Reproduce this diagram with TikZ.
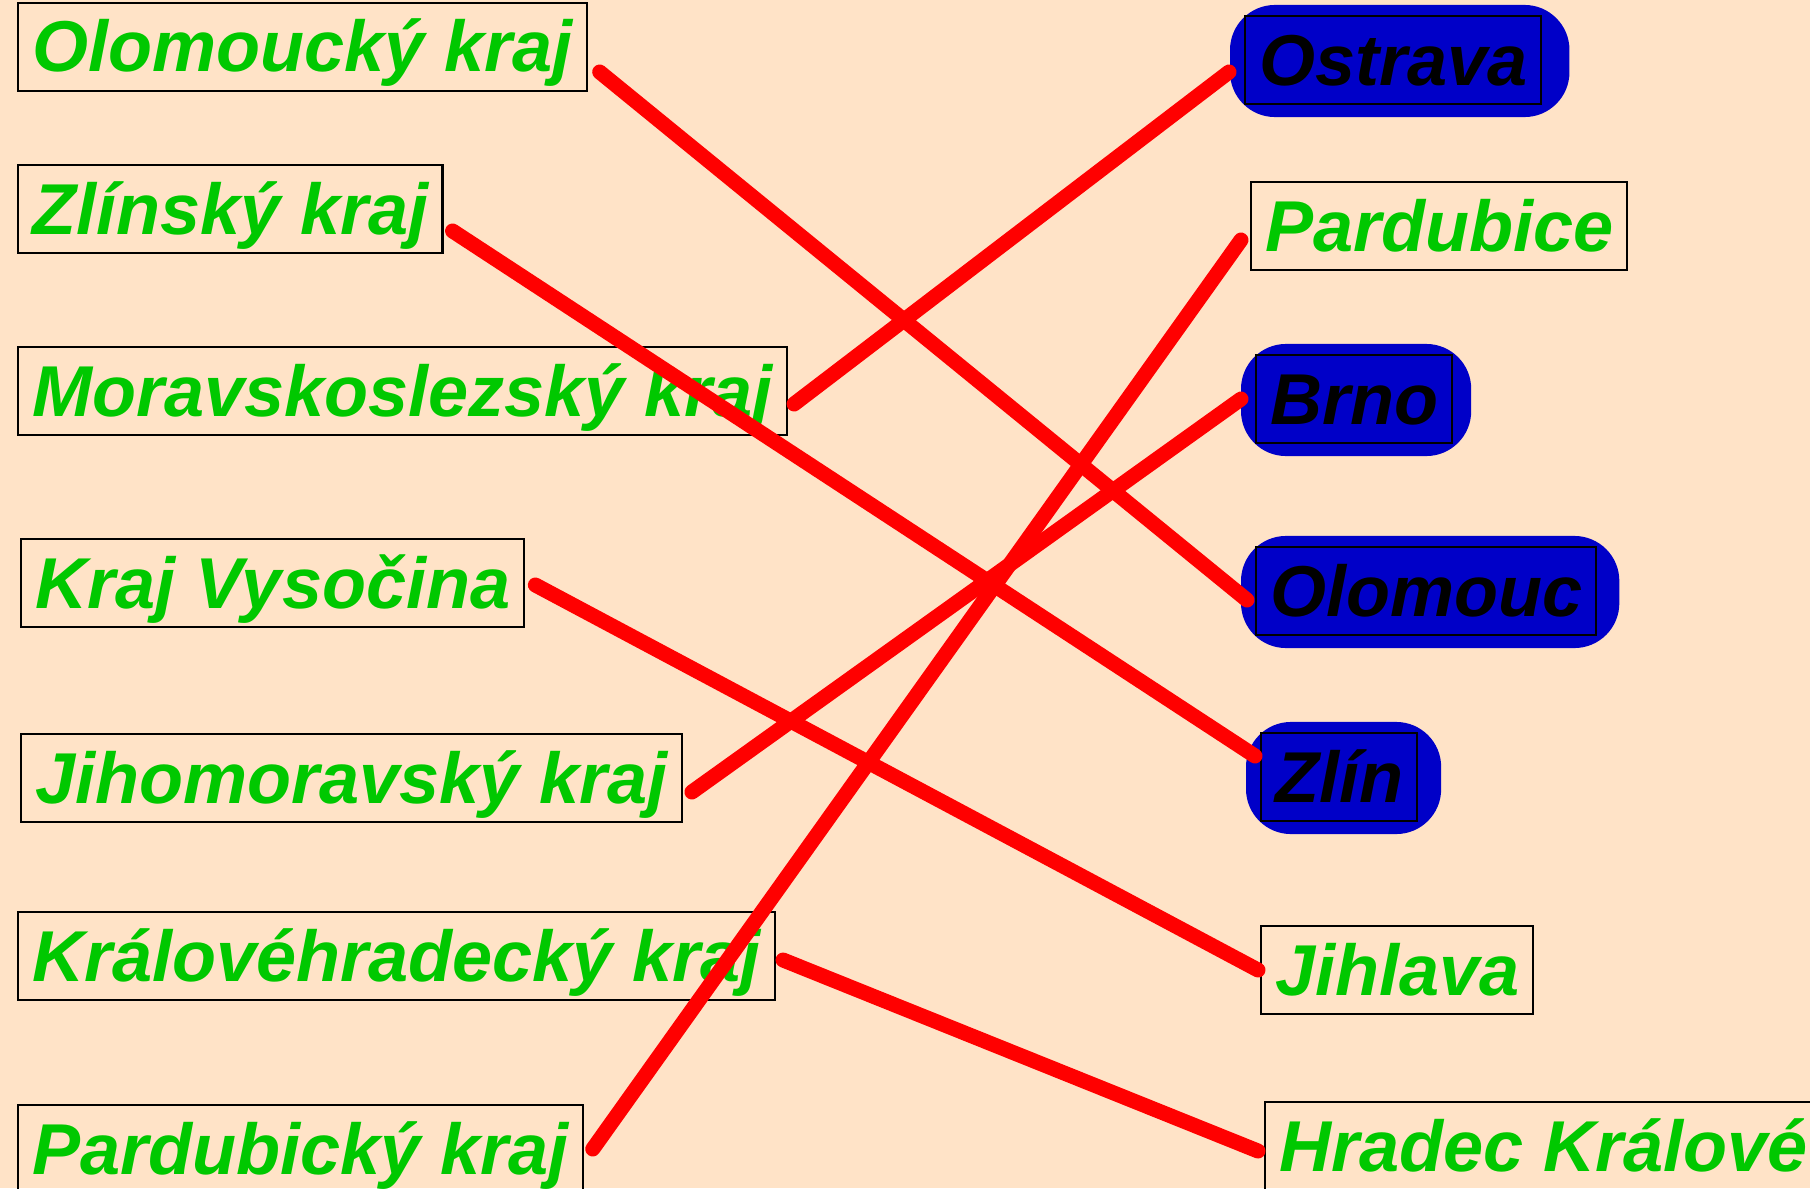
\documentclass[tikz,border=0pt]{standalone}
\usepackage{fontspec}
\setmainfont{Liberation Sans}
\usetikzlibrary{positioning}
\definecolor{pozadi}{RGB}{255,227,199}
\definecolor{zelena}{RGB}{0,200,0}
\definecolor{modra}{RGB}{0,0,200}
\pgfdeclarelayer{spodek}
\pgfsetlayers{spodek,main}

\begin{document}
\begin{tikzpicture}[
  kraj/.style={draw=black,line width=0.6pt,anchor=west,inner xsep=0.14cm,inner ysep=0pt,
    text height=0.69cm,text depth=0.19cm,text=zelena,
    font=\fontsize{20.5}{24}\selectfont\bfseries\itshape},
  mesto/.style={kraj,text=black},
  spoj/.style={draw=red,line width=0.15cm,line cap=round}]
\useasboundingbox (0,0) rectangle (18.10,11.88);
\begin{pgfonlayer}{spodek}
\fill[pozadi] (0,0) rectangle (18.10,11.88);
\end{pgfonlayer}
% kraje
\node[kraj] (k_1) at (0.17,11.41) {Olomoucký kraj};
\node[kraj] (k_2) at (0.17,9.79) {Zlínský kraj};
\node[kraj] (k_3) at (0.17,7.97) {Moravskoslezský kraj};
\node[kraj] (k_4) at (0.20,6.05) {Kraj Vysočina};
\node[kraj] (k_5) at (0.20,4.10) {Jihomoravský kraj};
\node[kraj] (k_6) at (0.17,2.32) {Královéhradecký kraj};
\node[kraj] (k_7) at (0.17,0.39) {Pardubický kraj};
% mesta
\node[mesto] (m_1) at (12.44,11.28) {Ostrava};
\node[kraj] (m_2) at (12.50,9.62) {Pardubice};
\node[mesto] (m_3) at (12.55,7.89) {Brno};
\node[mesto] (m_4) at (12.55,5.97) {Olomouc};
\node[mesto] (m_5) at (12.60,4.11) {Zlín};
\node[kraj] (m_6) at (12.60,2.18) {Jihlava};
\node[kraj] (m_7) at (12.64,0.42) {Hradec Králové};
% modre oznaceni
\begin{pgfonlayer}{spodek}
\foreach \m/\r in {m_1/0.27,m_3/0.18,m_4/0.22,m_5/0.23}
  \fill[modra,rounded corners=0.45cm] ([shift={(-0.14,0.10)}]\m.north west)
    rectangle ([shift={(\r,-0.12)}]\m.south east);
\end{pgfonlayer}
% spojeni
\path[spoj]
  ([shift={(0.12,-0.25)}]k_1.east) edge ([shift={(-0.08,-0.09)}]m_4.west)
  ([shift={(0.09,-0.22)}]k_2.east) edge ([shift={(-0.05,0.21)}]m_5.west)
  ([shift={(0.06,-0.13)}]k_3.east) edge ([shift={(-0.15,-0.12)}]m_1.west)
  ([shift={(0.10,-0.02)}]k_4.east) edge ([shift={(-0.02,0)}]m_6.west)
  ([shift={(0.09,-0.14)}]k_5.east) edge ([shift={(-0.14,0)}]m_3.west)
  ([shift={(0.07,-0.04)}]k_6.east) edge ([shift={(-0.06,-0.05)}]m_7.west)
  ([shift={(0.09,0)}]k_7.east) edge ([shift={(-0.09,-0.14)}]m_2.west);
\end{tikzpicture}
\end{document}
